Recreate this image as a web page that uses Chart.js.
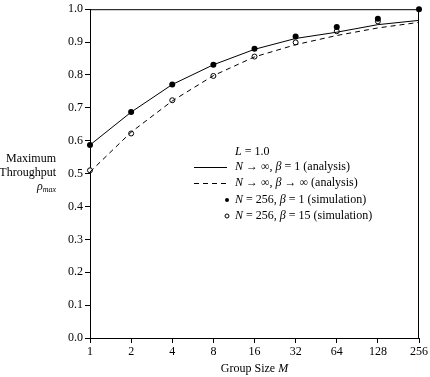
<!DOCTYPE html>
<html>
<head>
<meta charset="utf-8">
<script src="https://cdn.jsdelivr.net/npm/chart.js@4.4.1/dist/chart.umd.min.js"></script>
<style>
    html, body { margin: 0; padding: 0; background: #fff; }
    #wrap { width: 430px; height: 377px; }
</style>
</head>
<body>
<div id="wrap"><canvas id="chart"></canvas></div>
<script>
// Group sizes M (log2 spaced, shown as equal categories)
const groupSizes = ['1', '2', '4', '8', '16', '32', '64', '128', '256'];

// N -> inf, beta = 1 (analysis)
const analysisBeta1 = [0.587, 0.687, 0.771, 0.831, 0.878, 0.911, 0.930, 0.953, 0.966];
// N -> inf, beta -> inf (analysis)
const analysisBetaInf = [0.505, 0.626, 0.721, 0.798, 0.855, 0.892, 0.920, 0.943, 0.960];
// N = 256, beta = 1 (simulation)
const simBeta1 = [0.587, 0.687, 0.771, 0.831, 0.880, 0.917, 0.946, 0.971, 1.0];
// N = 256, beta = 15 (simulation)
const simBeta15 = [0.510, 0.622, 0.723, 0.797, 0.856, 0.899, 0.933, 0.963, null];

const yTicks = [0, 0.1, 0.2, 0.3, 0.4, 0.5, 0.6, 0.7, 0.8, 0.9, 1.0];

const FONT = '"Liberation Serif", "DejaVu Serif", serif';
Chart.defaults.font.family = FONT;
Chart.defaults.font.size = 12;
Chart.defaults.color = '#000';

// dibuja texto con partes en cursiva
function drawRich(ctx, segs, x, y) {
    let cx = x;
    segs.forEach(([text, italic]) => {
        ctx.font = (italic ? 'italic ' : '') + '12px ' + FONT;
        ctx.fillText(text, cx, y);
        cx += ctx.measureText(text).width;
    });
    return cx;
}
function richWidth(ctx, segs) {
    let w = 0;
    segs.forEach(([text, italic]) => {
        ctx.font = (italic ? 'italic ' : '') + '12px ' + FONT;
        w += ctx.measureText(text).width;
    });
    return w;
}

const decorations = {
    id: 'decorations',
    afterDraw: (chart) => {
        const ctx = chart.ctx;
        const a = chart.chartArea;
        ctx.save();

        // marco superior y derecho
        ctx.strokeStyle = '#000';
        ctx.lineWidth = 1;
        ctx.beginPath();
        ctx.moveTo(a.left, a.top + 0.5);
        ctx.lineTo(a.right - 0.5, a.top + 0.5);
        ctx.lineTo(a.right - 0.5, a.bottom);
        ctx.stroke();

        ctx.fillStyle = '#000';
        ctx.textBaseline = 'middle';
        ctx.textAlign = 'left';

        // titulo eje Y (alineado a la derecha)
        const rightX = 56;
        ctx.font = '12px ' + FONT;
        ctx.fillText('Maximum', rightX - ctx.measureText('Maximum').width, 159);
        ctx.fillText('Throughput', rightX - ctx.measureText('Throughput').width, 173);
        ctx.font = 'italic 12px ' + FONT;
        const rw = ctx.measureText('ρ').width;
        ctx.font = 'italic 8px ' + FONT;
        const sw = ctx.measureText('max').width;
        const rx = rightX - rw - sw;
        ctx.font = 'italic 12px ' + FONT;
        ctx.fillText('ρ', rx, 187);
        ctx.font = 'italic 8px ' + FONT;
        ctx.fillText('max', rx + rw, 190);

        // titulo eje X
        const xt = [['Group Size ', false], ['M', true]];
        drawRich(ctx, xt, (a.left + a.right) / 2 - richWidth(ctx, xt) / 2, 369);

        // leyenda
        const tx = a.left + 145;
        drawRich(ctx, [['L', true], [' = 1.0', false]], tx, 152);
        const rows = [
            { y: 167, kind: 'solid', segs: [['N', true], [' → ∞, ', false], ['β', true], [' = 1 (analysis)', false]] },
            { y: 183, kind: 'dash', segs: [['N', true], [' → ∞, ', false], ['β', true], [' → ∞ (analysis)', false]] },
            { y: 200, kind: 'dot', segs: [['N', true], [' = 256, ', false], ['β', true], [' = 1 (simulation)', false]] },
            { y: 216, kind: 'circle', segs: [['N', true], [' = 256, ', false], ['β', true], [' = 15 (simulation)', false]] }
        ];
        rows.forEach(r => {
            ctx.strokeStyle = '#000';
            ctx.lineWidth = 1;
            if (r.kind === 'solid' || r.kind === 'dash') {
                ctx.setLineDash(r.kind === 'dash' ? [5, 4] : []);
                ctx.beginPath();
                ctx.moveTo(a.left + 104, r.y + 0.5);
                ctx.lineTo(a.left + 137, r.y + 0.5);
                ctx.stroke();
                ctx.setLineDash([]);
            } else {
                ctx.beginPath();
                ctx.arc(a.left + 137, r.y, 2, 0, Math.PI * 2);
                if (r.kind === 'dot') {
                    ctx.fill();
                } else {
                    ctx.stroke();
                }
            }
            ctx.fillStyle = '#000';
            drawRich(ctx, r.segs, tx, r.y);
        });

        ctx.restore();
    }
};

const config = {
    type: 'line',
    data: {
        labels: groupSizes,
        datasets: [
            {
                data: analysisBeta1,
                borderColor: '#000',
                borderWidth: 1,
                pointRadius: 0,
                tension: 0
            },
            {
                data: analysisBetaInf,
                borderColor: '#000',
                borderWidth: 1,
                borderDash: [5, 4],
                pointRadius: 0,
                tension: 0
            },
            {
                data: simBeta1,
                showLine: false,
                clip: false,
                pointRadius: 3,
                pointBackgroundColor: '#000',
                pointBorderColor: '#000',
                pointBorderWidth: 0
            },
            {
                data: simBeta15,
                showLine: false,
                clip: false,
                pointRadius: 2.5,
                pointBackgroundColor: '#fff',
                pointBorderColor: '#000',
                pointBorderWidth: 1
            }
        ]
    },
    options: {
        responsive: true,
        maintainAspectRatio: false,
        animation: false,
        layout: { padding: { left: 0, right: 9, top: 6, bottom: 0 } },
        plugins: {
            legend: { display: false },
            tooltip: { enabled: false }
        },
        scales: {
            x: {
                type: 'category',
                offset: false,
                grid: { drawOnChartArea: false, drawTicks: true, tickLength: 5, color: '#000' },
                border: { color: '#000', width: 1 },
                ticks: { color: '#000', padding: 2, maxRotation: 0, autoSkip: false },
                afterFit: (scale) => { scale.height = 39; }
            },
            y: {
                min: 0,
                max: 1,
                afterBuildTicks: (scale) => { scale.ticks = yTicks.map(v => ({ value: v })); },
                grid: { drawOnChartArea: false, drawTicks: true, tickLength: 5, color: '#000' },
                border: { color: '#000', width: 1 },
                ticks: { color: '#000', padding: 2, callback: (v) => Number(v).toFixed(1) },
                afterFit: (scale) => { scale.width = 90; }
            }
        }
    },
    plugins: [decorations]
};

new Chart(document.getElementById('chart'), config);
</script>
</body>
</html>
